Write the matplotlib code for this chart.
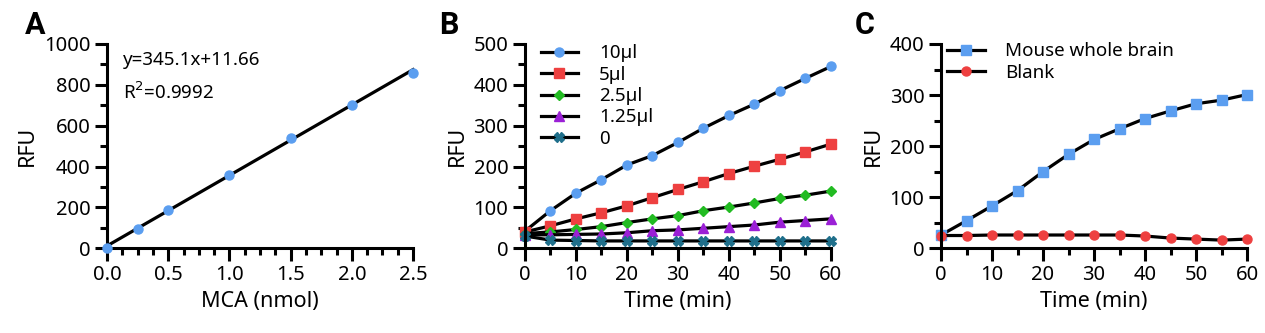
import matplotlib
matplotlib.use("Agg")
import matplotlib.pyplot as plt
from matplotlib.ticker import MultipleLocator

plt.rcParams['font.family'] = ['Noto Sans', 'DejaVu Sans']
plt.rcParams['axes.linewidth'] = 2.2

# A: MCA standard curve
mca_x = [0, 0.25, 0.5, 1.0, 1.5, 2.0, 2.5]
mca_y = [2, 93, 186, 359, 538, 701, 856]
slope, intercept = 345.1, 11.66

# B: time course for enzyme volumes
time = [0, 5, 10, 15, 20, 25, 30, 35, 40, 45, 50, 55, 60]
rfu_10 = [42, 92, 135, 168, 204, 227, 259, 294, 325, 353, 386, 416, 445]
rfu_5 = [40, 55, 72, 87, 104, 124, 144, 163, 183, 201, 218, 236, 255]
rfu_25 = [36, 40, 46, 53, 63, 72, 80, 92, 101, 111, 122, 130, 140]
rfu_125 = [33, 33, 34, 35, 38, 43, 45, 49, 53, 57, 64, 68, 72]
rfu_0 = [30, 20, 19, 18, 18, 18, 18, 18, 18, 18, 18, 18, 18]
labels_b = ["10µl", "5µl", "2.5µl", "1.25µl", "0"]

# C: brain homogenate vs blank
brain = [26, 54, 83, 113, 150, 184, 213, 234, 254, 269, 283, 290, 301]
blank = [25, 25, 26, 26, 26, 26, 26, 26, 24, 20, 18, 16, 18]

blue = "#5b9ef0"
red = "#ee4040"
green = "#22bb22"
purple = "#9b20d6"
teal = "#1f6f8b"

fig = plt.figure(figsize=(12.65, 3.33), dpi=100)
bottom, height = 0.2544, 0.6135
axA = fig.add_axes([0.0846, bottom, 0.2419, height])
axB = fig.add_axes([0.4150, bottom, 0.2419, height])
axC = fig.add_axes([0.7439, bottom, 0.2419, height])


def style(ax):
    for s in ["top", "right"]:
        ax.spines[s].set_visible(False)
    ax.tick_params(which="major", length=9, width=2.2, labelsize=14.5, pad=3)
    ax.tick_params(which="minor", length=5, width=2.2)
    ax.set_ylabel("RFU", fontsize=15.5)


def legend(ax, x, y):
    ax.legend(loc="upper left", bbox_to_anchor=(x, y), frameon=False, fontsize=13.5,
              handlelength=2.0, handletextpad=1.1, labelspacing=0.18, borderaxespad=0)


# A
ax = axA
fit = [slope * x + intercept for x in mca_x]
ax.plot([mca_x[0], mca_x[-1]], [fit[0], fit[-1]], color="black", lw=2.3, zorder=2, clip_on=False)
ax.plot(mca_x, mca_y, "o", color=blue, ms=6.5, zorder=3, clip_on=False)
ax.set_xlim(0, 2.5)
ax.set_ylim(0, 1000)
ax.xaxis.set_major_locator(MultipleLocator(0.5))
ax.xaxis.set_minor_locator(MultipleLocator(0.125))
ax.yaxis.set_major_locator(MultipleLocator(200))
ax.yaxis.set_minor_locator(MultipleLocator(100))
ax.xaxis.set_major_formatter(lambda v, p: f"{v:.1f}")
style(ax)
ax.set_xlabel("MCA (nmol)", fontsize=15.5)
ax.text(0.13, 922, f"y={slope}x+{intercept}", fontsize=13.5, va="center")
ax.text(0.13, 762, "R$^{2}$=0.9992", fontsize=13.5, va="center")

# B
ax = axB
series_b = [(rfu_10, blue, "o", 6.5), (rfu_5, red, "s", 6.5), (rfu_25, green, "D", 5),
            (rfu_125, purple, "^", 6.5), (rfu_0, teal, "X", 7)]
for (vals, col, mk, ms), lab in zip(series_b, labels_b):
    ax.plot(time, vals, color="black", lw=2.3, marker=mk, ms=ms, mfc=col, mec=col,
            label=lab, clip_on=False)
ax.set_xlim(0, 60)
ax.set_ylim(0, 500)
ax.xaxis.set_major_locator(MultipleLocator(10))
ax.xaxis.set_minor_locator(MultipleLocator(5))
ax.yaxis.set_major_locator(MultipleLocator(100))
ax.yaxis.set_minor_locator(MultipleLocator(50))
style(ax)
ax.set_xlabel("Time (min)", fontsize=15.5)
legend(ax, 0.027, 1.035)

# C
ax = axC
ax.plot(time, brain, color="black", lw=2.3, marker="s", ms=6.5, mfc=blue, mec=blue,
        label="Mouse whole brain", clip_on=False)
ax.plot(time, blank, color="black", lw=2.3, marker="o", ms=6.5, mfc=red, mec=red,
        label="Blank", clip_on=False)
ax.set_xlim(0, 60)
ax.set_ylim(0, 400)
ax.xaxis.set_major_locator(MultipleLocator(10))
ax.xaxis.set_minor_locator(MultipleLocator(5))
ax.yaxis.set_major_locator(MultipleLocator(100))
ax.yaxis.set_minor_locator(MultipleLocator(50))
style(ax)
ax.set_xlabel("Time (min)", fontsize=15.5)
legend(ax, -0.005, 1.045)

for lab, x in [("A", 0.020), ("B", 0.347), ("C", 0.676)]:
    fig.text(x, 0.925, lab, fontsize=22, fontweight="bold", va="center",
             family=["Roboto", "DejaVu Sans"])

fig.savefig("out.png", dpi=100)
